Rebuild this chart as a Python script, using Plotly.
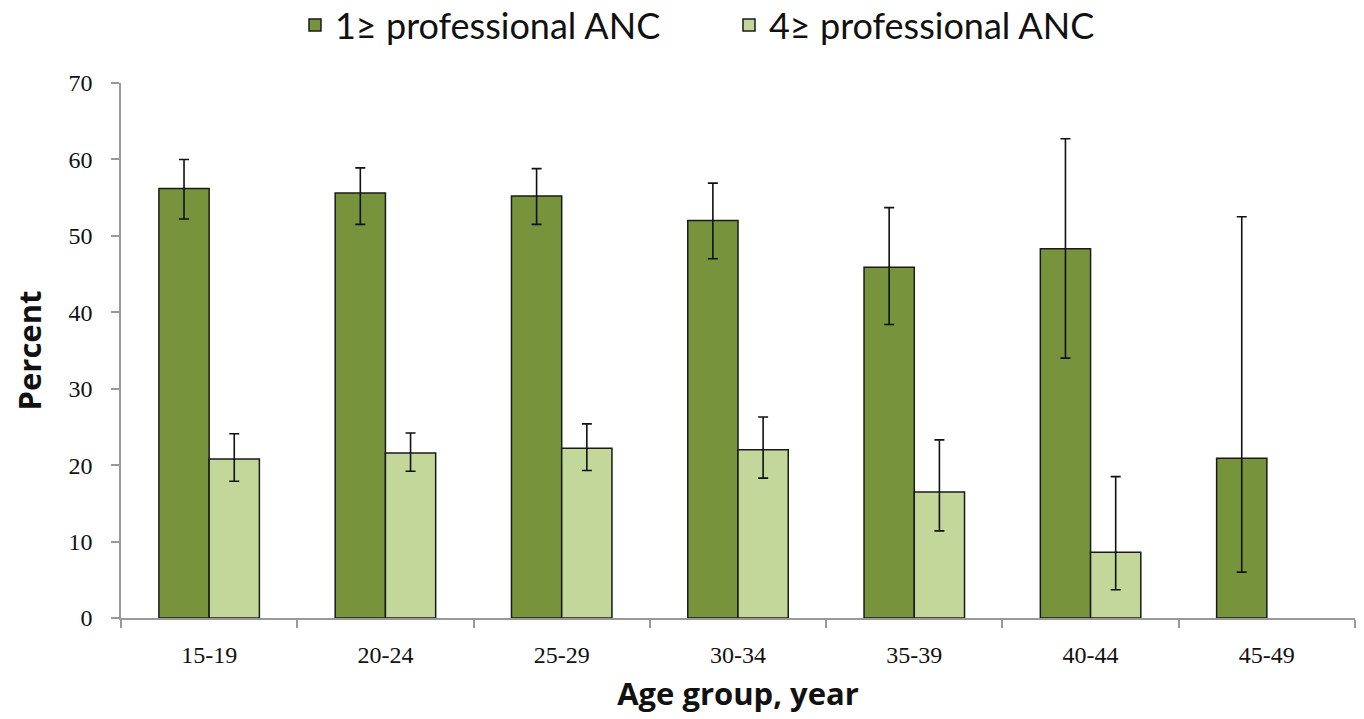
import plotly.graph_objects as go

# Age groups and percentages with asymmetric confidence limits
age_groups = ["15-19", "20-24", "25-29", "30-34", "35-39", "40-44", "45-49"]

anc1_values = [56.2, 55.6, 55.2, 52.0, 45.9, 48.3, 20.9]
anc1_upper = [60.0, 58.9, 58.8, 56.9, 53.7, 62.7, 52.5]
anc1_lower = [52.2, 51.5, 51.5, 47.0, 38.4, 34.0, 6.0]

anc4_values = [20.8, 21.6, 22.2, 22.0, 16.5, 8.6, None]
anc4_upper = [24.1, 24.2, 25.4, 26.3, 23.3, 18.5, None]
anc4_lower = [17.9, 19.2, 19.3, 18.3, 11.4, 3.7, None]

y_ticks = [0, 10, 20, 30, 40, 50, 60, 70]


def plus(vals, up):
    return [None if v is None else u - v for v, u in zip(vals, up)]


def minus(vals, lo):
    return [None if v is None else v - l for v, l in zip(vals, lo)]


fig = go.Figure()
fig.add_trace(go.Bar(
    name="1≥ professional ANC",
    x=age_groups, y=anc1_values,
    marker=dict(color="#77933C", line=dict(color="#1a1a1a", width=1.5)),
    error_y=dict(type="data", symmetric=False,
                 array=plus(anc1_values, anc1_upper),
                 arrayminus=minus(anc1_values, anc1_lower),
                 color="#111111", thickness=1.6, width=5),
))
fig.add_trace(go.Bar(
    name="4≥ professional ANC",
    x=age_groups, y=anc4_values,
    marker=dict(color="#C4D79B", line=dict(color="#1a1a1a", width=1.5)),
    error_y=dict(type="data", symmetric=False,
                 array=plus(anc4_values, anc4_upper),
                 arrayminus=minus(anc4_values, anc4_lower),
                 color="#111111", thickness=1.6, width=5),
))

tick_font = dict(family="Liberation Serif, Times New Roman, serif", size=24, color="#111111")
title_font = dict(family="Open Sans, sans-serif", size=31, color="#111111")

fig.update_layout(
    width=1364, height=719,
    margin=dict(l=121, r=9, t=83, b=101),
    paper_bgcolor="white", plot_bgcolor="white",
    barmode="group", bargap=0.43, bargroupgap=0,
    showlegend=True,
    legend=dict(orientation="h", x=0.141, xanchor="left",
                yref="container", y=0.965, yanchor="middle",
                font=dict(family="Lato, Open Sans, sans-serif", size=36, color="#111111"),
                entrywidth=389, entrywidthmode="pixels", traceorder="normal"),
    xaxis=dict(
        type="category", tickson="boundaries", ticks="outside", ticklen=8,
        tickcolor="#999999", tickwidth=1.5,
        showline=True, linecolor="#999999", linewidth=1.5,
        tickfont=tick_font, ticklabelstandoff=14,
        title=dict(text="<b>Age group, year</b>", standoff=17, font=title_font),
        showgrid=False, zeroline=False,
    ),
    yaxis=dict(
        range=[0, 70], tickvals=y_ticks, ticks="outside", ticklen=8,
        tickcolor="#999999", tickwidth=1.5,
        showline=True, linecolor="#999999", linewidth=1.5,
        tickfont=tick_font, ticklabelstandoff=14,
        title=dict(text="<b>Percent</b>", standoff=18, font=title_font),
        showgrid=False, zeroline=False,
    ),
)

fig.write_html("out.html")
